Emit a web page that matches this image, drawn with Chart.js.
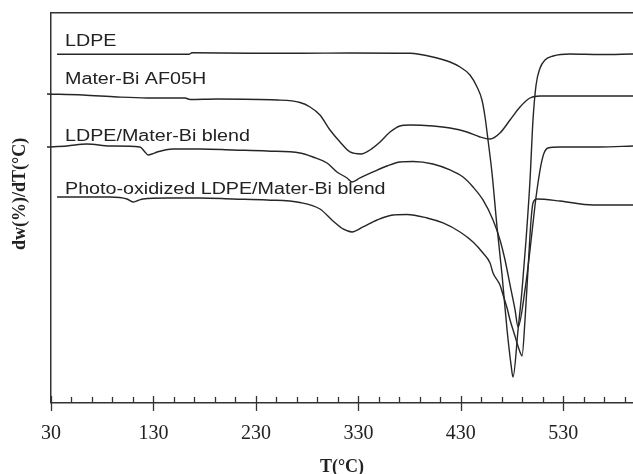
<!DOCTYPE html>
<html>
<head>
<meta charset="utf-8">
<title>DTG curves</title>
<script src="https://cdn.jsdelivr.net/npm/chart.js@4/dist/chart.umd.min.js"></script>
<style>
  html, body { margin: 0; padding: 0; background: #ffffff; }
  canvas { display: block; }
</style>
</head>
<body>
<canvas id="dtg" width="633" height="474"></canvas>
<script>
// Temperature (°C) and offset DTG signal (arbitrary units) for each sample
const ldpeT   = [35.9, 97.3, 164.7, 167.6, 224.2, 273.0, 321.8, 380.4, 402.8, 419.4, 429.2, 438.9, 445.8, 450.6, 453.6, 456.5, 460.4, 465.3, 470.2, 475.1, 479.0, 480.9, 485.8, 489.7, 493.6, 497.5, 500.4, 503.4, 507.3, 512.1, 520.0, 536.5, 565.8, 598];
const ldpeDTG = [34.87, 34.87, 34.87, 35.02, 34.97, 34.97, 35.0, 34.97, 34.6, 34.1, 33.6, 32.8, 31.6, 30.3, 28.6, 26.3, 23.0, 17.6, 12.8, 7.3, 3.8, 2.6, 7.3, 11.3, 16.3, 22.3, 28.3, 31.8, 33.5, 34.3, 34.7, 34.9, 34.85, 34.9];

const materBiT   = [26.1, 61.2, 94.4, 123.7, 160.8, 165.7, 192.0, 250.6, 273.0, 282.8, 292.5, 302.3, 312.1, 321.8, 332.6, 341.3, 351.1, 360.9, 370.6, 380.4, 402.8, 419.4, 436.0, 448.7, 458.5, 468.2, 478.0, 487.7, 497.5, 507.3, 598];
const materBiDTG = [30.9, 30.8, 30.6, 30.5, 30.5, 30.35, 30.4, 30.3, 30.05, 29.6, 28.8, 27.3, 26.1, 25.1, 24.9, 25.3, 26.1, 27.1, 27.7, 27.8, 27.7, 27.5, 27.1, 26.6, 26.4, 27.0, 28.3, 29.6, 30.5, 30.7, 30.7];

const blendT   = [26.1, 45.6, 65.1, 87.6, 116.9, 121.7, 124.7, 128.6, 133.5, 149.1, 175.4, 207.6, 240.8, 273.0, 285.7, 299.4, 309.1, 318.9, 323.8, 331.6, 344.3, 357.9, 370.6, 383.3, 402.8, 419.4, 432.1, 441.9, 451.6, 461.4, 468.2, 473.1, 478.0, 482.9, 485.8, 492.6, 497.5, 502.4, 504.3, 508.2, 511.2, 515.1, 526.8, 565.8, 598];
const blendDTG = [25.6, 25.7, 25.9, 25.7, 25.6, 25.1, 24.8, 24.9, 25.1, 25.4, 25.4, 25.3, 25.2, 25.0, 24.6, 24.0, 23.1, 22.5, 22.1, 22.5, 23.1, 23.7, 24.1, 24.15, 23.9, 23.3, 22.6, 21.6, 20.3, 18.3, 16.3, 14.3, 11.8, 9.3, 7.6, 11.3, 15.3, 19.8, 21.3, 23.8, 25.0, 25.5, 25.6, 25.6, 25.7];

const photoT   = [35.9, 87.6, 104.2, 110.0, 114.9, 119.8, 143.2, 175.4, 207.6, 240.8, 273.0, 292.5, 305.2, 315.0, 323.8, 334.5, 348.2, 363.8, 377.4, 397.0, 412.6, 429.2, 441.9, 451.6, 458.5, 461.4, 468.2, 471.2, 475.1, 478.0, 481.9, 484.8, 487.7, 489.7, 492.6, 495.5, 498.5, 500.4, 504.3, 526.8, 559.0, 598];
const photoDTG = [20.6, 20.6, 20.4, 20.1, 20.25, 20.4, 20.5, 20.5, 20.4, 20.3, 20.05, 19.4, 18.2, 17.4, 17.1, 17.6, 18.3, 18.8, 18.85, 18.5, 18.0, 17.1, 16.1, 15.0, 14.0, 13.0, 11.8, 10.8, 9.5, 8.3, 7.0, 6.0, 5.1, 4.7, 8.3, 13.3, 18.3, 20.0, 20.4, 20.2, 19.8, 19.8];

const seriesNames = ['LDPE', 'Mater-Bi AF05H', 'LDPE/Mater-Bi blend', 'Photo-oxidized LDPE/Mater-Bi blend'];
// Where each curve's name is written: [temperature, signal level]
const nameAnchors = [[43.7, 36.1], [43.7, 32.3], [43.7, 26.6], [43.7, 21.3]];

const xMin = 30, xMax = 598;
const majorTicks = [30, 130, 230, 330, 430, 530];
const minorStep = 20;
const yTitle = 'dw(%)/dT(°C)';
const xTitle = 'T(°C)';

const ink = '#262626';
const serif = '"Liberation Serif", "Times New Roman", serif';
const sans = '"Liberation Sans", Arial, sans-serif';

function pts(t, v) { return t.map((x, i) => ({ x: x, y: v[i] })); }

function curve(label, t, v) {
  return {
    label: label,
    data: pts(t, v),
    borderColor: ink,
    borderWidth: 1.4,
    pointRadius: 0,
    fill: false,
    cubicInterpolationMode: 'monotone',
    clip: { left: 6, top: 0, right: 0, bottom: 0 }
  };
}

// Tick marks: long ones crossing the axis at labelled temperatures, short inner ones between
const tickMarks = {
  id: 'tickMarks',
  afterDatasetsDraw(chart) {
    const ctx = chart.ctx, xs = chart.scales.x, base = chart.chartArea.bottom;
    ctx.save();
    ctx.strokeStyle = '#333';
    ctx.lineWidth = 1.3;
    for (let v = xMin; v <= xMax; v += minorStep) {
      const px = Math.round(xs.getPixelForValue(v)) + 0.5;
      const major = majorTicks.includes(v);
      ctx.beginPath();
      ctx.moveTo(px, base - (major ? 7 : 6));
      ctx.lineTo(px, base + (major ? 8 : 0));
      ctx.stroke();
    }
    ctx.restore();
  }
};

// Curve names written above each trace, and the rotated y-axis title
const curveNames = {
  id: 'curveNames',
  afterDatasetsDraw(chart) {
    const ctx = chart.ctx, xs = chart.scales.x, ys = chart.scales.y;
    ctx.save();
    ctx.fillStyle = '#222';
    ctx.font = '16px ' + sans;
    ctx.textBaseline = 'middle';
    ctx.textAlign = 'left';
    seriesNames.forEach((name, i) => {
      const px = xs.getPixelForValue(nameAnchors[i][0]);
      const py = ys.getPixelForValue(nameAnchors[i][1]);
      ctx.save();
      ctx.translate(px, py);
      ctx.scale(1.23, 1);
      ctx.fillText(name, 0, 0);
      ctx.restore();
    });
    ctx.restore();

    ctx.save();
    ctx.fillStyle = '#222';
    ctx.font = 'bold 18px ' + serif;
    ctx.textAlign = 'center';
    ctx.textBaseline = 'middle';
    ctx.translate(20, ys.getPixelForValue(20.9));
    ctx.rotate(-Math.PI / 2);
    ctx.fillText(yTitle, 0, 0);
    ctx.restore();
  }
};

new Chart(document.getElementById('dtg'), {
  type: 'line',
  data: {
    datasets: [
      curve(seriesNames[0], ldpeT, ldpeDTG),
      curve(seriesNames[1], materBiT, materBiDTG),
      curve(seriesNames[2], blendT, blendDTG),
      curve(seriesNames[3], photoT, photoDTG)
    ]
  },
  options: {
    responsive: false,
    animation: false,
    devicePixelRatio: 1,
    layout: { autoPadding: false, padding: { left: 51, top: 13, right: 0, bottom: 0 } },
    plugins: { legend: { display: false }, tooltip: { enabled: false } },
    scales: {
      x: {
        type: 'linear',
        position: 'bottom',
        min: xMin,
        max: xMax,
        afterBuildTicks(scale) {
          const t = [];
          for (let v = xMin; v <= xMax; v += minorStep) t.push({ value: v });
          scale.ticks = t;
        },
        // tick marks are drawn by the tickMarks plugin; tickLength only spaces the labels
        grid: { display: false, drawTicks: true, tickLength: 19 },
        border: { display: true, color: '#333', width: 1.5 },
        ticks: {
          autoSkip: false,
          maxRotation: 0,
          padding: 0,
          color: '#222',
          font: { family: serif, size: 20, lineHeight: 1.2 },
          callback: (v) => majorTicks.includes(v) ? String(v) : ''
        },
        title: {
          display: true,
          text: xTitle,
          color: '#222',
          font: { family: serif, size: 18, weight: 'bold', lineHeight: 0.78 },
          padding: { top: 14, bottom: 0 }
        }
      },
      x2: {
        type: 'linear',
        position: 'top',
        min: xMin,
        max: xMax,
        grid: { display: false, drawTicks: false },
        border: { display: true, color: '#333', width: 1.5 },
        ticks: { display: false }
      },
      y: {
        type: 'linear',
        position: 'left',
        min: 0,
        max: 39,
        grid: { display: false, drawTicks: false },
        border: { display: true, color: '#333', width: 1.5 },
        ticks: { display: false }
      }
    }
  },
  plugins: [tickMarks, curveNames]
});
</script>
</body>
</html>
